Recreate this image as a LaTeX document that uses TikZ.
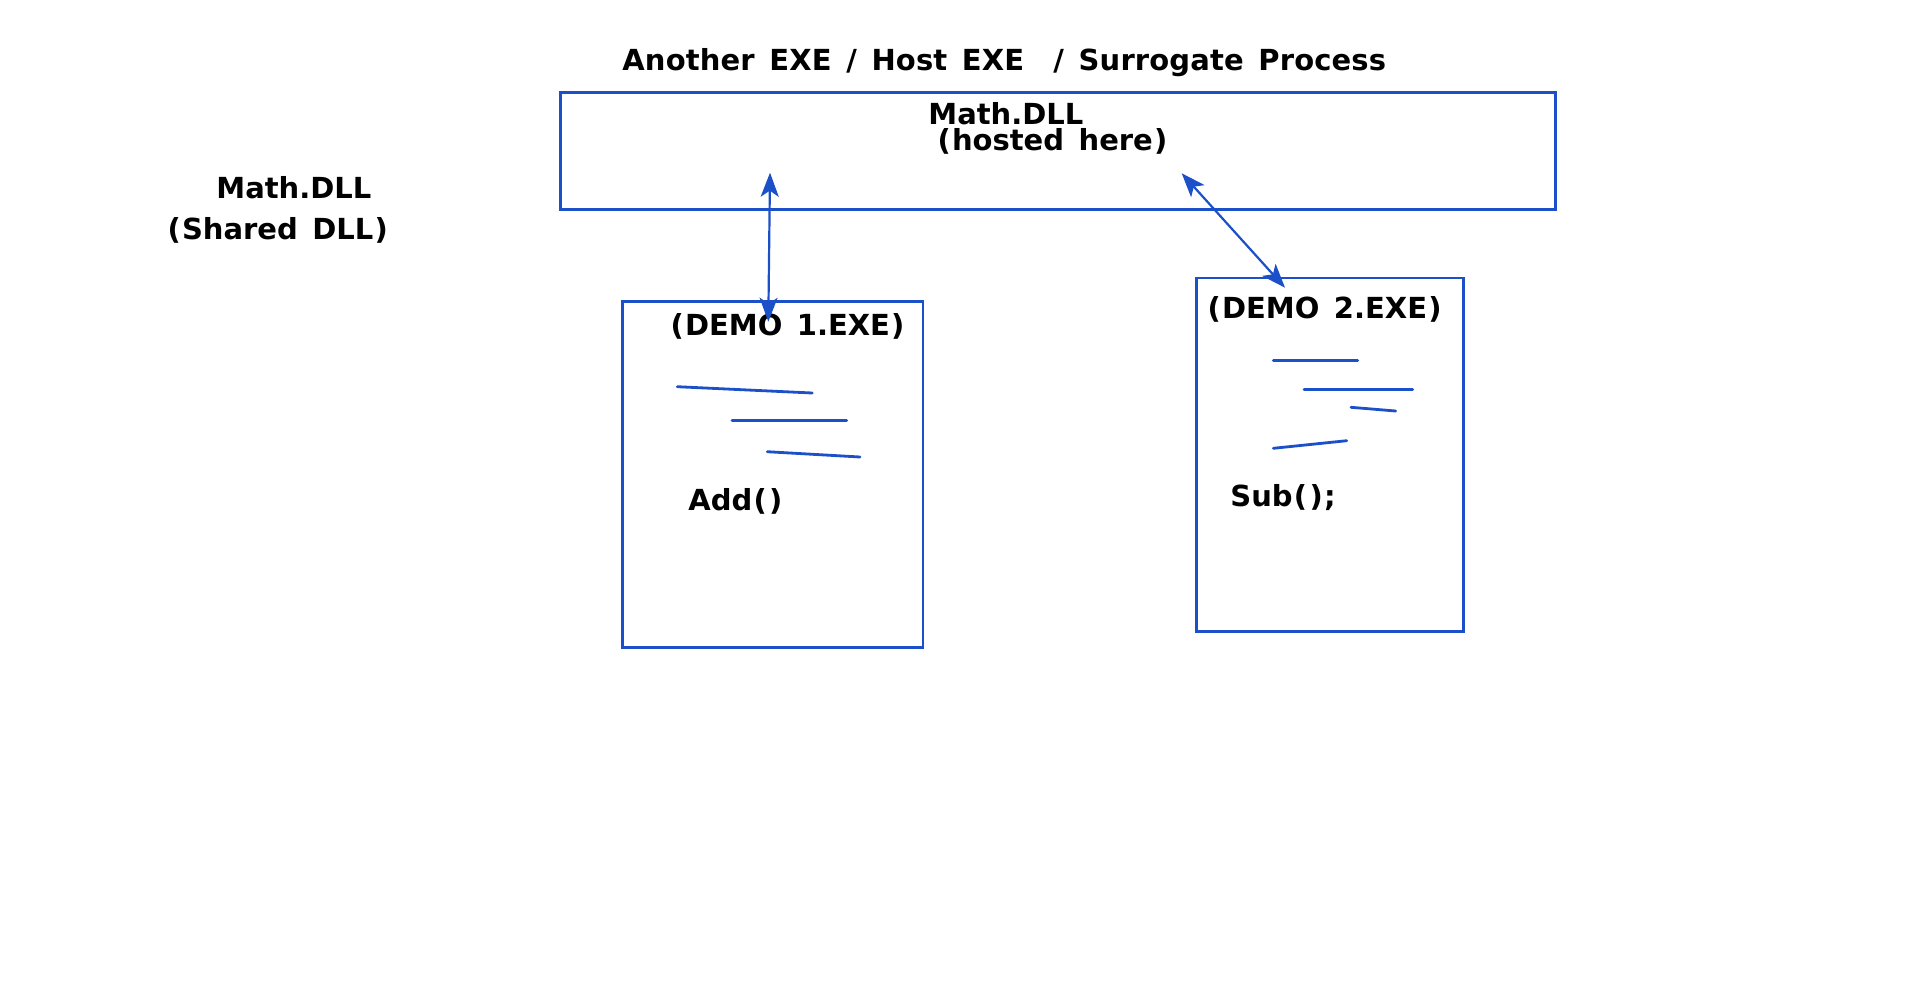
\documentclass[tikz,border=0pt]{standalone}
\usepackage{fontspec}
\setmainfont{DejaVu Sans}[WordSpace=1.43]
\usetikzlibrary{arrows.meta}
\definecolor{lineblue}{RGB}{28,80,200}
\newcommand\opn{\kern0.6pt(\kern0.6pt}
\newcommand\cpn{\kern0.6pt)\kern0.6pt}
\tikzset{
  lbl/.style={anchor=base west, inner sep=0pt, font=\fontsize{14.5pt}{16pt}\selectfont\bfseries, text=black},
  boxframe/.style={draw=lineblue, line width=1.4pt, inner sep=0pt, anchor=north west},
  scribble/.style={draw=lineblue, line width=1.4pt, line cap=round},
  link/.style={draw=lineblue, line width=1.1pt, {Stealth[length=12pt,width=9pt,inset=3pt]}-{Stealth[length=12pt,width=9pt,inset=3pt]}}
}
\begin{document}
\begin{tikzpicture}[x=0.5pt,y=-0.5pt]
\useasboundingbox[fill=white] (0,0) rectangle (1920,991);
% boxes
\node[boxframe, line width=1.5pt, minimum width=497.5pt, minimum height=58.6pt] (host) at (558.5,91) {};
\node[boxframe, minimum width=150.3pt, minimum height=173pt] (demoA) at (621,300) {};
\node[boxframe, minimum width=133.7pt, minimum height=176.8pt] (demoB) at (1195,276.5) {};
% texts
\node[lbl] (title) at (622,70) {\addfontfeatures{LetterSpace=0.5}Another EXE / Host EXE \ / Surrogate Process};
\node[lbl] (hostname) at (928,124.3) {Math.DLL};
\node[lbl] (hosted) at (936,150.5) {\opn hosted here\cpn};
\node[lbl] (shname) at (216,198.3) {Math.DLL};
\node[lbl] (shared) at (166,239.5) {\opn Shared DLL\cpn};
\node[lbl] (demoAname) at (669,335) {\opn DEMO 1.EXE\cpn};
\node[lbl] (add) at (688,510) {Add\opn\cpn};
\node[lbl] (demoBname) at (1206,318.3) {\opn DEMO 2.EXE\cpn};
\node[lbl] (sub) at (1230,506) {Sub\opn\cpn;};
% scribbles in DEMO 1
\coordinate (s1a) at (677.3,386.7); \coordinate (s1b) at (812.3,393);
\coordinate (s2a) at (732,420.7);   \coordinate (s2b) at (846.7,420.7);
\coordinate (s3a) at (767.3,451.7); \coordinate (s3b) at (860,457);
\draw[scribble] (s1a) -- (s1b);
\draw[scribble] (s2a) -- (s2b);
\draw[scribble] (s3a) -- (s3b);
% scribbles in DEMO 2
\coordinate (t1a) at (1273.3,360.7); \coordinate (t1b) at (1357.7,360.7);
\coordinate (t2a) at (1304,389.7);   \coordinate (t2b) at (1412.7,389.7);
\coordinate (t3a) at (1351,407.3);   \coordinate (t3b) at (1395.7,411);
\coordinate (t4a) at (1273.3,448.3); \coordinate (t4b) at (1346.7,440.7);
\draw[scribble] (t1a) -- (t1b);
\draw[scribble] (t2a) -- (t2b);
\draw[scribble] (t3a) -- (t3b);
\draw[scribble] (t4a) -- (t4b);
% connectors
\coordinate (aTop) at (770,172.7);
\coordinate (aBot) at (768.3,321.7);
\coordinate (bTop) at (1181.7,173.3);
\coordinate (bBot) at (1285,287.7);
\draw[link] (aTop) -- (aBot);
\draw[link] (bTop) -- (bBot);
\end{tikzpicture}
\end{document}
